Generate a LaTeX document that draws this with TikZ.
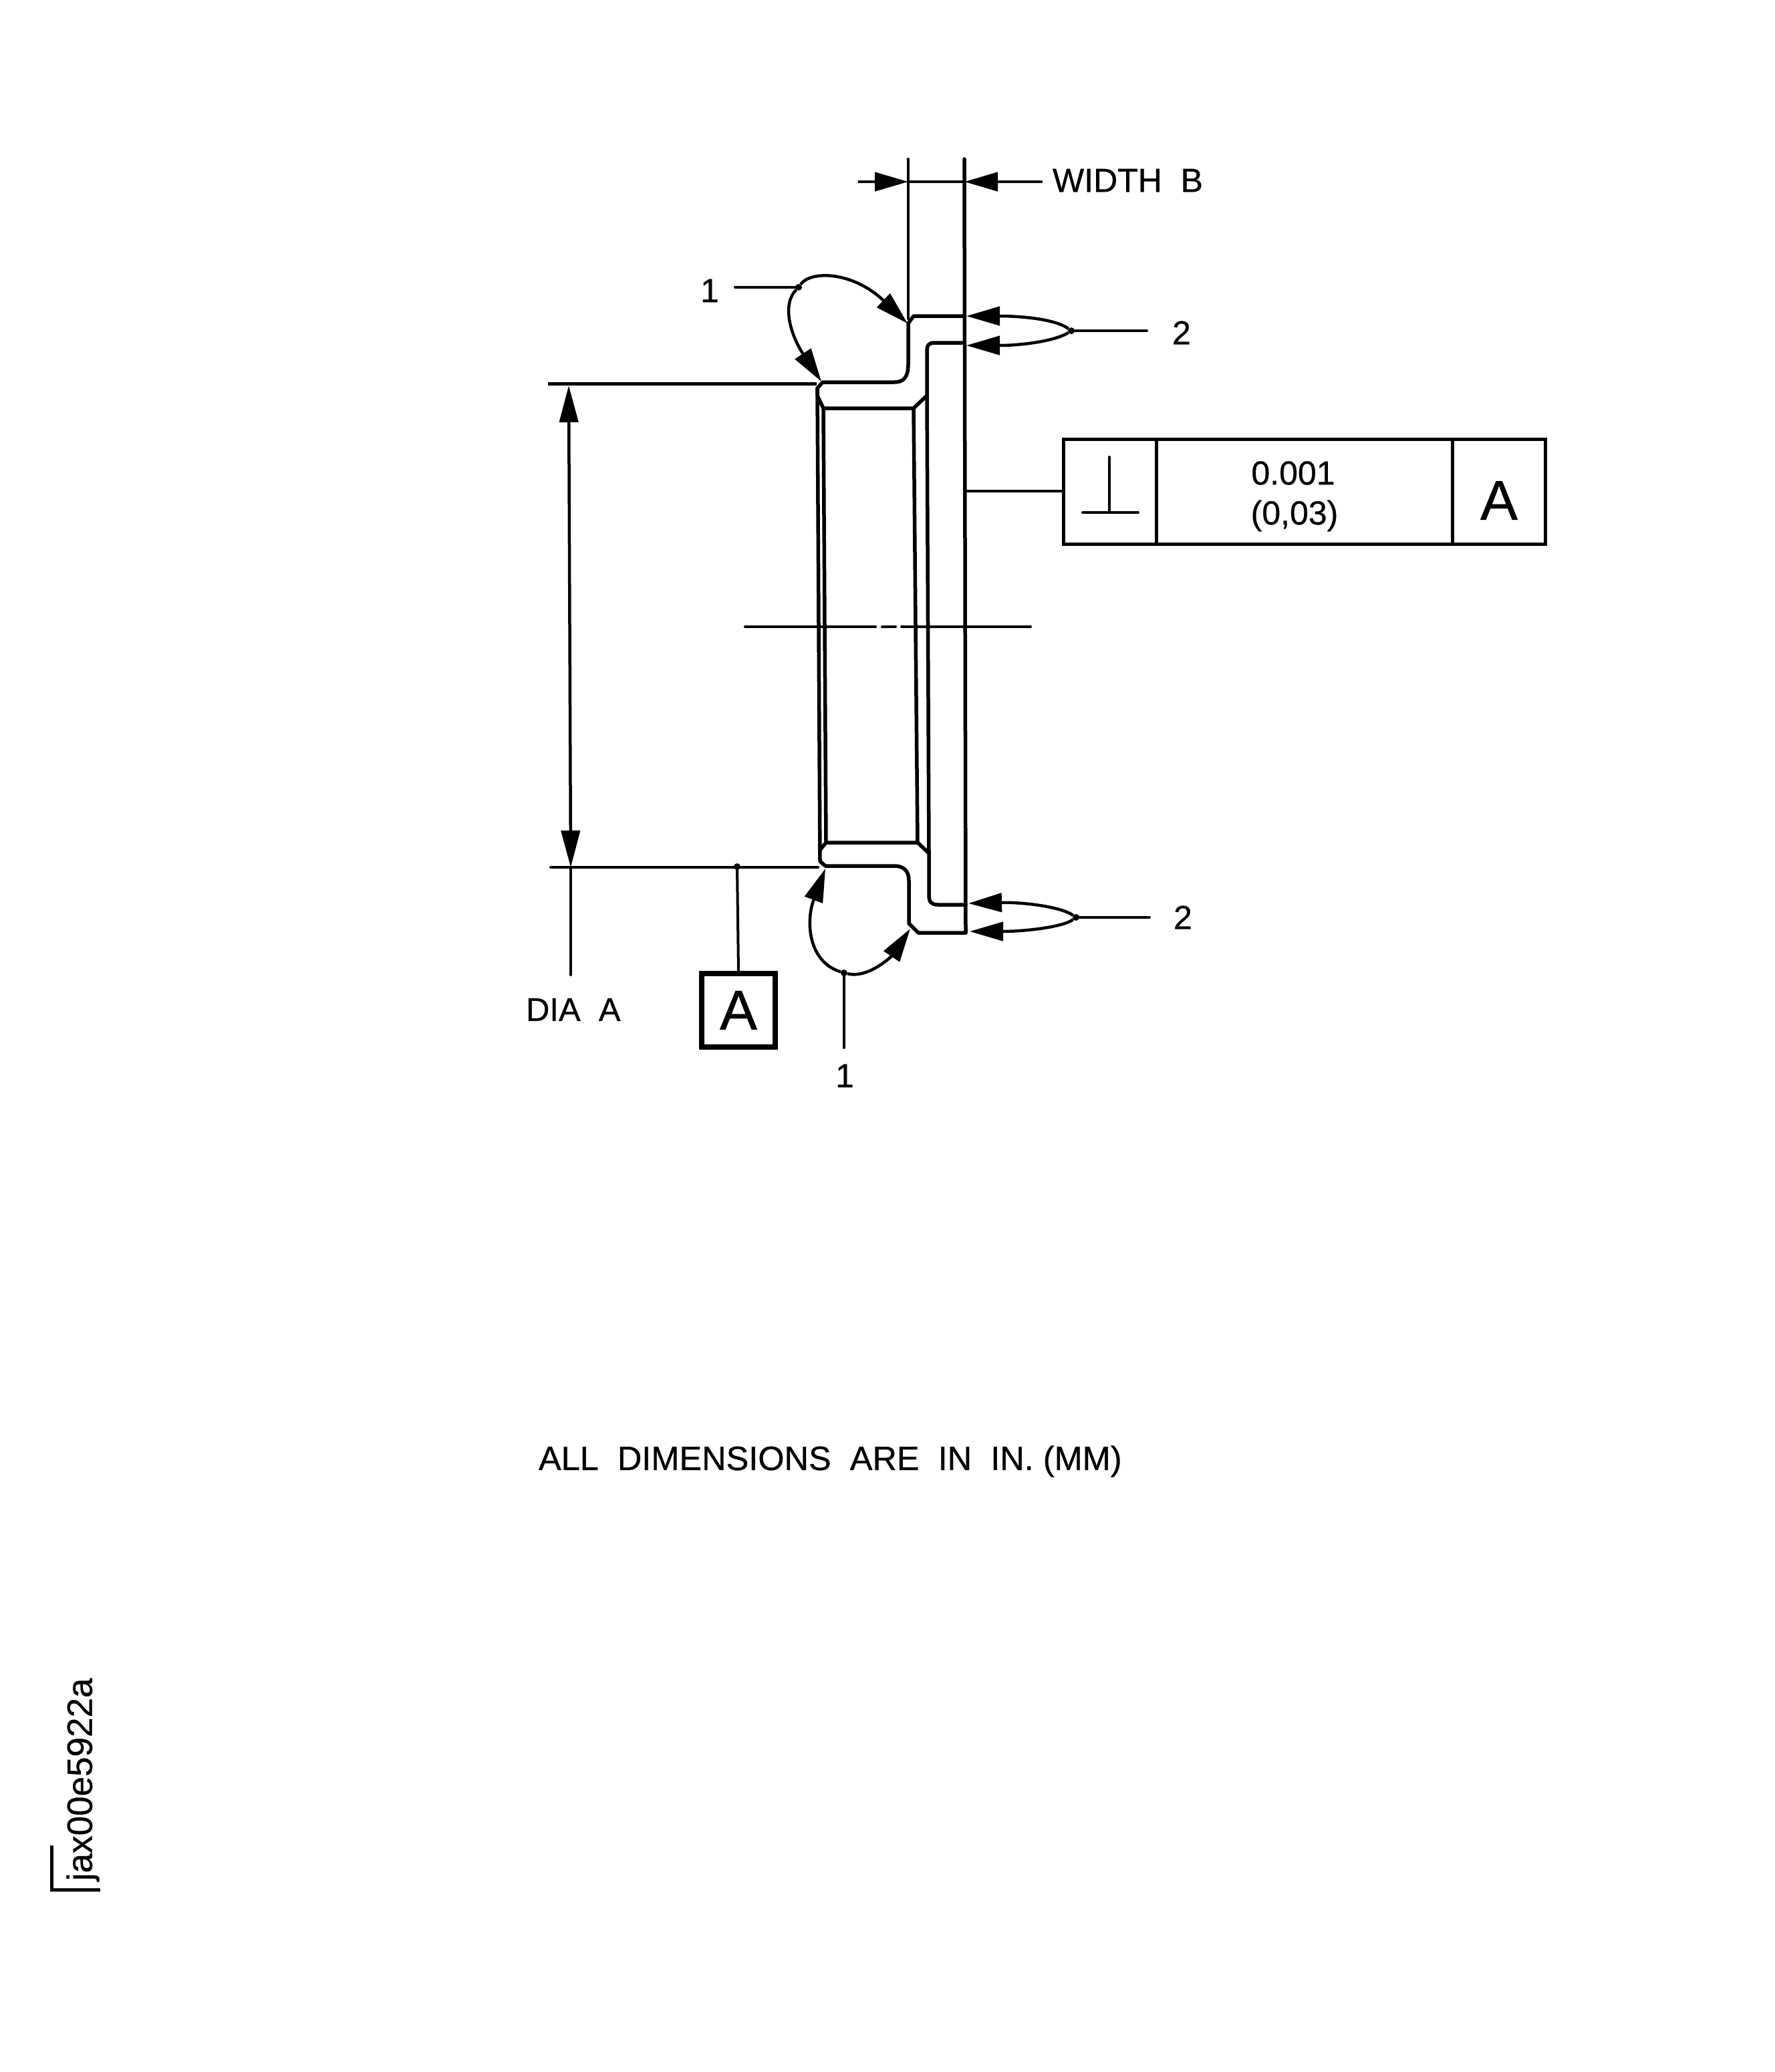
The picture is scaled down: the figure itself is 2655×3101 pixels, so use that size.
\documentclass[tikz,border=0pt]{standalone}
\usepackage{fontspec}
\setmainfont[FakeBold=0.6]{Liberation Sans}
\usetikzlibrary{arrows.meta}
\newcommand{\fsz}[1]{\fontsize{#1}{#1}\selectfont}
\tikzset{
  thinln/.style={line width=4pt,line cap=round},
  profile/.style={line width=5.5pt,line join=round,line cap=round},
  tiparrow/.style={-{Triangle[length=50pt,width=28pt]},line width=4.5pt},
  lbl/.style={inner sep=0pt,outer sep=0pt,font=\fsz{50}},
  frame/.style={draw,line width=5pt,rectangle,inner sep=0pt,outer sep=0pt,minimum height=157pt},
  jdot/.style={circle,fill=black,inner sep=0pt,minimum size=10pt},
}
\begin{document}
\begin{tikzpicture}[x=1pt,y=-1pt]
\useasboundingbox (0,0) rectangle (2655,3101);
\fill[white] (0,0) rectangle (2655,3101);

% --- part profile
\draw[profile] (1443,473) -- (1367,473) -- (1359,484) -- (1359,545) .. controls (1359,565) and (1352,572) .. (1338,572) -- (1231,572) -- (1223,581) -- (1223,592) -- (1232,611) -- (1367,611) -- (1387,592);
\draw[profile] (1443,513) -- (1398,513) .. controls (1390,513) and (1387,517) .. (1387,524) -- (1387,592);
\draw[profile] (1223,581) -- (1227,1289) -- (1235,1296) -- (1338,1296) .. controls (1353,1296) and (1360,1304) .. (1360,1318) -- (1360,1382) -- (1374,1396) -- (1445,1396);
\draw[profile] (1232,611) -- (1236,1261);
\draw[profile] (1227,1272) -- (1236,1261) -- (1373,1261) -- (1390,1277);
\draw[profile] (1367,611) -- (1373,1261);
\draw[profile] (1387,592) -- (1390,1277) -- (1390,1340) .. controls (1390,1350) and (1394,1354) .. (1403,1354) -- (1445,1354);
\draw[profile] (1443,238) -- (1445,1396);

% --- centre line
\coordinate (cl1) at (1115,938); \coordinate (cl2) at (1310,938);
\coordinate (cl3) at (1320,938); \coordinate (cl4) at (1340,938);
\coordinate (cl5) at (1349,938); \coordinate (cl6) at (1542,938);
\draw[thinln] (cl1) -- (cl2) (cl3) -- (cl4) (cl5) -- (cl6);

% --- width B
\coordinate (extL) at (1359,238); \coordinate (extLb) at (1359,477);
\draw[thinln] (extL) -- (extLb);
\coordinate (wa) at (1284,272); \coordinate (wb) at (1359,272);
\coordinate (wc) at (1443,272); \coordinate (wd) at (1560,272);
\draw[tiparrow] (wa) -- (wb);
\draw[thinln] (wb) -- (wc);
\draw[tiparrow] (wd) -- (wc);
\node[lbl,anchor=west] (widthb) at (1575,270) {WIDTH\ \ B};

% --- dia A
\coordinate (dimT) at (820,574); \coordinate (dimTe) at (1222,574);
\coordinate (dimB) at (824,1298); \coordinate (dimBe) at (1224,1298);
\draw[line width=5pt] (dimT) -- (dimTe);
\draw[thinln] (dimB) -- (dimBe);
\coordinate (aT) at (851,577); \coordinate (aB) at (854,1298); \coordinate (aE) at (854,1459);
\draw[{Triangle[length=55pt,width=28pt]}-{Triangle[length=55pt,width=28pt]},line width=4.5pt] (aT) -- (aB);
\draw[thinln] (aB) -- (aE);
\node[lbl,anchor=west,font=\fsz{49}] (dia) at (787,1511) {DIA\ \ A};

% --- datum A
\node[jdot] (dj) at (1103,1297) {};
\node[draw,line width=8pt,rectangle,minimum width=110pt,minimum height=110pt,inner sep=0pt,font=\fsz{84}] (datum) at (1105,1512) {A};
\draw[thinln] (dj) -- (datum.north);

% --- feature control frame
\node[frame,minimum width=139pt] (f1) at (1661,736) {};
\node[frame,minimum width=443pt] (f2) at (1952,736) {};
\node[frame,minimum width=139pt] (f3) at (2243,736) {};
\node[lbl,font=\fsz{84}] (fA) at (2243,749) {A};
\node[lbl] (tol1) at (1935,708) {0.001};
\node[lbl] (tol2) at (1937,772) {(0,03)};
\coordinate (fl) at (1445,735);
\draw[thinln] (fl) -- (fl -| f1.west);
\coordinate (pa) at (1620,767); \coordinate (pb) at (1703,767);
\coordinate (pc) at (1660,684); \coordinate (pd) at (1660,767);
\draw[thinln] (pa) -- (pb) (pc) -- (pd);

% --- callouts 1 (upper)
\node[lbl] (one1) at (1062,435) {1};
\node[jdot] (j1) at (1195,430) {};
\coordinate (s1) at (1100,430);
\draw[thinln] (s1) -- (j1);
\coordinate (t11) at (1358,484); \coordinate (t12) at (1229,571);
\draw[tiparrow] (j1) .. controls (1212,405) and (1275,405) .. (t11);
\draw[tiparrow] (j1) .. controls (1170,455) and (1182,500) .. (t12);

% --- callouts 2 (upper)
\node[lbl] (two1) at (1768,498) {2};
\node[jdot] (j2) at (1603,495) {};
\coordinate (s2) at (1716,495);
\draw[thinln] (j2) -- (s2);
\coordinate (t21) at (1446,473); \coordinate (t22) at (1446,517);
\draw[tiparrow] (j2) .. controls (1580,478) and (1530,473) .. (t21);
\draw[tiparrow] (j2) .. controls (1580,510) and (1530,517) .. (t22);

% --- callouts 2 (lower)
\node[lbl] (two2) at (1770,1373) {2};
\node[jdot] (j3) at (1610,1373) {};
\coordinate (s3) at (1720,1373);
\draw[thinln] (j3) -- (s3);
\coordinate (t31) at (1449,1352); \coordinate (t32) at (1451,1394);
\draw[tiparrow] (j3) .. controls (1588,1357) and (1530,1350) .. (t31);
\draw[tiparrow] (j3) .. controls (1590,1388) and (1530,1394) .. (t32);

% --- callouts 1 (lower)
\node[jdot] (j4) at (1263,1456) {};
\node[lbl] (one2) at (1264,1610) {1};
\coordinate (s4) at (1263,1568);
\draw[thinln] (j4) -- (s4);
\coordinate (t41) at (1235,1300); \coordinate (t42) at (1362,1390);
\draw[tiparrow] (j4) .. controls (1210,1440) and (1205,1380) .. (t41);
\draw[tiparrow] (j4) .. controls (1300,1465) and (1335,1430) .. (t42);

% --- note
\node[lbl,anchor=west,font=\fsz{50.5}] (note) at (806,2187) {ALL\ \ DIMENSIONS\ \ ARE\ \ IN\ \ IN. (MM)};

% --- figure id
\node[lbl,anchor=west,rotate=90,font=\fsz{53}] (figid) at (124,2815) {jax00e5922a};
\coordinate (c1) at (77,2762); \coordinate (c2) at (77,2828); \coordinate (c3) at (150,2828);
\draw[line width=5pt] (c1) -- (c2) -- (c3);
\end{tikzpicture}
\end{document}
